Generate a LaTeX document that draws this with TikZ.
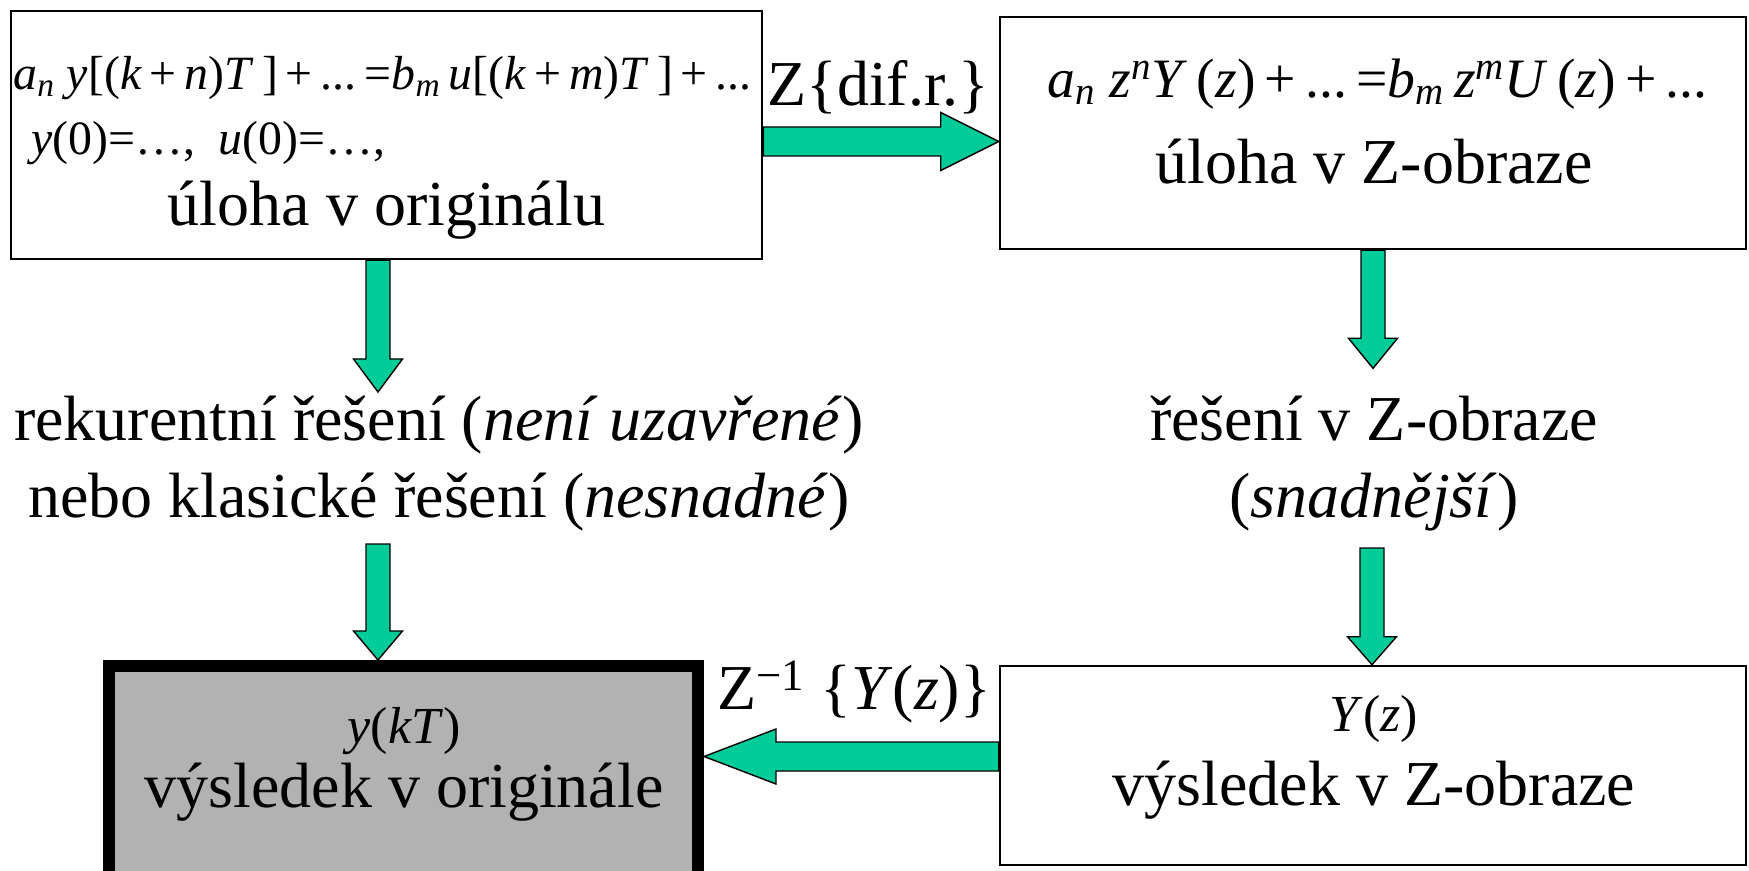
\documentclass[tikz,border=0pt]{standalone}
\usepackage{fontspec}
\setmainfont{Liberation Serif}
\usepackage{tikz}
\usetikzlibrary{calc}
\definecolor{arr_green}{HTML}{00CC99}
\definecolor{res_gray}{HTML}{B2B2B2}

% italic variable
\newcommand{\iv}[1]{\textit{#1}}

% block arrow: start, tip, half shaft width, half head width, head length
\newcommand{\blockarrow}[5]{%
  \coordinate (ba-base) at ($(#2)!#5!(#1)$);
  \draw[arrowbody]
    ($(#1)!#3!90:(#2)$) -- ($(ba-base)!#3!90:(#2)$) --
    ($(ba-base)!#4!90:(#2)$) -- (#2) --
    ($(ba-base)!#4!-90:(#2)$) -- ($(ba-base)!#3!-90:(#2)$) --
    ($(#1)!#3!-90:(#2)$) -- cycle;
}

\begin{document}
\begin{tikzpicture}[
    x=0.5pt, y=-0.5pt,
    line join=miter,
    box/.style={draw=black, line width=1.3pt, fill=white, inner sep=0pt},
    bigtext/.style={font=\fontsize{32}{38.5}\selectfont, align=center, inner sep=0pt},
    eqtext/.style={font=\fontsize{23.9}{29}\selectfont, inner sep=0pt},
    zeqtext/.style={font=\fontsize{27.8}{32}\selectfont, inner sep=0pt},
    smalleq/.style={font=\fontsize{26}{30}\selectfont, inner sep=0pt},
    arrowbody/.style={fill=arr_green, draw=black, line width=0.7pt}
]

\useasboundingbox (0,0) rectangle (1749,871);

% Boxes
\node[box, minimum width=375.5pt, minimum height=124pt] (orig) at (386.5,135) {};
\node[box, minimum width=373pt, minimum height=116pt] (zobr) at (1373,133) {};
\node[box, minimum width=373pt, minimum height=99.5pt] (zres) at (1373,765.5) {};
\node[draw=black, line width=6pt, fill=res_gray, inner sep=0pt,
      minimum width=294.5pt, minimum height=107pt] (result) at (403.5,773) {};

% Task in the original
\node[eqtext, anchor=west] (origeq) at (13,78)
  {\iv{a}\textsubscript{\iv{n}} \iv{y}[(\iv{k}\,+\,\iv{n})\iv{T}\,]\,+\,...\,=\iv{b}\textsubscript{\iv{m}}\,\iv{u}[(\iv{k}\,+\,\iv{m})\iv{T}\,]\,+\,...};
\node[eqtext, anchor=west] (originit) at (31,143)
  {\iv{y}(0)=…,\ \ \iv{u}(0)=…,};
\node[bigtext] (origlab) at (386.5,210) {úloha v originálu};

% Task in the Z-image
\node[zeqtext] (zobreq) at (1377.5,84)
  {\iv{a}\textsubscript{\iv{n}} \iv{z}\textsuperscript{\iv{n}}\iv{Y}\,(\iv{z})\,+\,...\,=\iv{b}\textsubscript{\iv{m}}\,\iv{z}\textsuperscript{\iv{m}}\iv{U}\,(\iv{z})\,+\,...};
\node[bigtext] (zobrlab) at (1374,162) {úloha v Z-obraze};

% Solutions
\node[bigtext] (rek) at (439,463.5)
  {rekurentní řešení (\textit{není uzavřené})\\nebo klasické řešení (\textit{nesnadné})};
\node[bigtext] (zsol) at (1374,463.5)
  {řešení v Z-obraze\\(\textit{snadnější})};

% Results
\node[smalleq] (ykt) at (404,731) {\iv{y}(\iv{kT})};
\node[bigtext] (reslab) at (404,792) {výsledek v originále};
\node[smalleq] (yz) at (1374,719) {\iv{Y}(\iv{z})};
\node[bigtext] (zreslab) at (1374,790) {výsledek v Z-obraze};

% Transform labels
\node[bigtext] (ztr) at (878,87) {Z\{dif.r.\}};
\node[bigtext] (zinv) at (854,692) {Z\textsuperscript{−1} \{\iv{Y}(\iv{z})\}};

% Arrows
\coordinate (a1s) at ($(orig.east)+(0,6.5)$);
\coordinate (a1t) at (zobr.west |- a1s);
\blockarrow{a1s}{a1t}{7.25pt}{14.5pt}{29pt}

\coordinate (a2s) at ($(orig.south)+(-8.5,0)$);
\coordinate (a2t) at (378,392);
\blockarrow{a2s}{a2t}{6pt}{12.25pt}{16.5pt}

\coordinate (a3s) at (378,544);
\coordinate (a3t) at (a3s |- result.north);
\blockarrow{a3s}{a3t}{6pt}{12.25pt}{14.5pt}

\coordinate (a4s) at (zobr.south);
\coordinate (a4t) at ($(zobr.south)+(0,118)$);
\blockarrow{a4s}{a4t}{6pt}{12.25pt}{15pt}

\coordinate (a5s) at (1372,548);
\coordinate (a5t) at (a5s |- zres.north);
\blockarrow{a5s}{a5t}{6pt}{12.25pt}{14pt}

\coordinate (a6s) at ($(zres.west)+(0,-9)$);
\coordinate (a6t) at (result.east |- a6s);
\blockarrow{a6s}{a6t}{7.25pt}{13.75pt}{36pt}

\end{tikzpicture}
\end{document}
